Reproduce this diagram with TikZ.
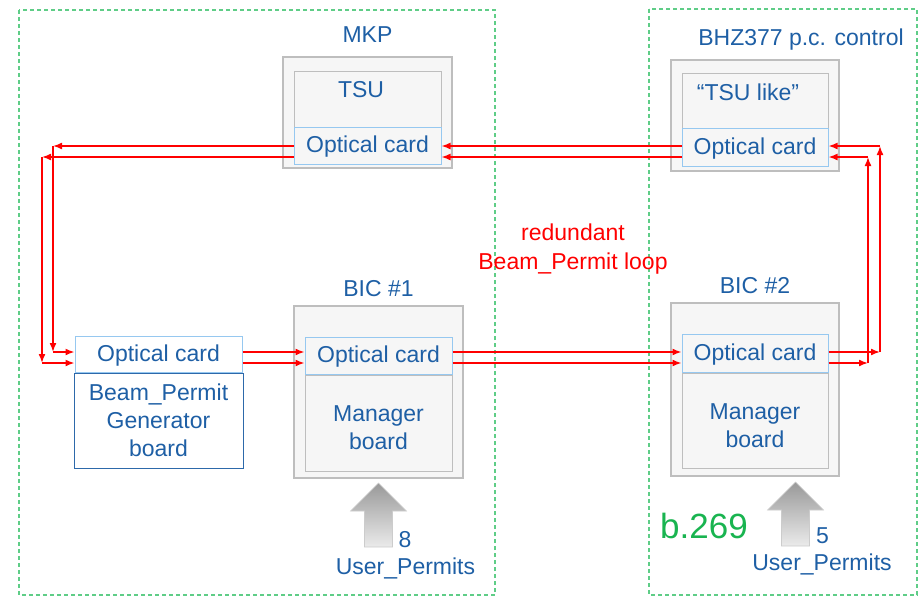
\documentclass[tikz,border=0pt]{standalone}
\usepackage{fontspec}
\setmainfont{Liberation Sans}
\usetikzlibrary{positioning,arrows.meta}

\definecolor{rackgray}{RGB}{190,190,190}
\definecolor{boxfill}{RGB}{246,246,246}
\definecolor{optblue}{RGB}{150,200,240}
\definecolor{genblue}{RGB}{45,105,170}
\definecolor{tblue}{RGB}{30,95,165}
\definecolor{zonegreen}{RGB}{95,205,135}
\definecolor{bgreen}{RGB}{25,180,80}
\definecolor{fibre}{RGB}{255,0,0}

\begin{document}
\begin{tikzpicture}[x=1pt,y=-1pt,>={Latex[length=9pt,width=7pt]},
  font=\fontsize{23}{28}\selectfont,
  rack/.style={draw=rackgray,fill=boxfill,line width=1.2pt,minimum width=169pt},
  card/.style={draw=rackgray,fill=boxfill,line width=1pt,minimum width=147pt,inner sep=0pt,text=tblue,align=center},
  opt/.style={draw=optblue,fill=boxfill,line width=1pt,minimum width=147pt,minimum height=37pt,inner sep=0pt,text=tblue,text height=17pt,text depth=3pt},
  lbl/.style={text=tblue,inner sep=0pt},
  sig/.style={draw=fibre,line width=1.6pt,->},
  zone/.style={draw=zonegreen,dash pattern=on 4pt off 3pt,line width=1.5pt},
  permit/.style={top color=black!40,bottom color=black!8,draw=black!20,line width=0.6pt}]
\useasboundingbox (0,0) rectangle (918,597);

% the two sites
\draw[zone] (19,10) rectangle (495,595);
\draw[zone] (649,9) rectangle (917,595);

% MKP crate
\node[rack,minimum height=111pt] (mkp) at (367.5,112.5) {};
\node[card,minimum height=56pt] (tsu) at (367.5,99) {};
\node[opt] (oc1) at (367.5,145.5) {Optical card};
\node[lbl,anchor=base] at (361,97) {TSU};
\node[lbl,above=14pt of mkp] {MKP};

% BHZ377 crate
\node[rack,minimum width=168pt,minimum height=111pt] (bhz) at (755,115.5) {};
\node[card,minimum width=146pt,minimum height=55pt] (tsul) at (755,100.5) {};
\node[opt,minimum width=146pt,minimum height=38pt] (oc2) at (755,147) {Optical card};
\node[lbl,anchor=base] at (748,100) {“TSU like”};
\node[lbl,anchor=base] at (801,45) {BHZ377 p.c. control};

% BIC #1
\node[rack,minimum height=172pt] (bic1) at (378.5,392) {};
\node[opt] (oc3) at (378.5,355.5) {Optical card};
\node[card,minimum height=96pt,text height=53pt,text depth=0pt,below=0pt of oc3] (mgr1) {Manager\\board};
\node[lbl,above=8pt of bic1] {BIC \#1};

% BIC #2
\node[rack,minimum width=168pt,minimum height=173pt] (bic2) at (755,389.5) {};
\node[opt,minimum width=146pt,minimum height=38pt] (oc4) at (755,353) {Optical card};
\node[card,minimum width=146pt,minimum height=95pt,text height=53pt,text depth=0pt,below=0pt of oc4] (mgr2) {Manager\\board};
\node[lbl,above=8pt of bic2] {BIC \#2};

% generator
\node[opt,fill=white,minimum width=167pt,minimum height=36pt] (oc5) at (158.5,354) {Optical card};
\node[card,draw=genblue,fill=white,minimum width=169pt,minimum height=95pt,below=0pt of oc5] (gen) {Beam\_Permit\\Generator\\board};

% loop corners
\coordinate (la) at (53,146);
\coordinate (lb) at (42,157);
\coordinate (lc) at (53,352);
\coordinate (ld) at (42,363);
\coordinate (ra) at (880,146);
\coordinate (rb) at (868,157);
\coordinate (rc) at (880,352);
\coordinate (rd) at (868,363);

% redundant loop, one pass per fibre
\foreach \ta/\bo/\ri/\up in {la/lc/rc/ra,lb/ld/rd/rb} {
  \draw[sig] (oc1.west |- \ta) -- (\ta);
  \draw[sig] (\ta) -- (\bo);
  \draw[sig] (\bo) -- (oc5.west |- \bo);
  \draw[sig] (oc5.east |- \bo) -- (oc3.west |- \bo);
  \draw[sig] (oc3.east |- \bo) -- (oc4.west |- \bo);
  \draw[sig] (oc4.east |- \bo) -- (\ri);
  \draw[sig] (\ri) -- (\up);
  \draw[sig] (\up) -- (oc2.east |- \up);
  \draw[sig] (oc2.west |- \up) -- (oc1.east |- \up);
}
\node[text=fibre,align=center,inner sep=0pt,font=\fontsize{23}{29}\selectfont] (loop) at (573,249) {redundant\\Beam\_Permit loop};

% user permit inputs
\coordinate (in1) at (378.5,483);
\coordinate (in2) at (795.5,482);
\foreach \p in {in1,in2}
  \shade[permit] (\p) -- ++(28,28) -- ++(-14,0) -- ++(0,36) -- ++(-28,0) -- ++(0,-36) -- ++(-14,0) -- cycle;
\node[lbl,anchor=base] (n1) at (405,547) {8};
\node[lbl,anchor=base] (u1) at (405.5,574) {User\_Permits};
\node[lbl,anchor=base] (n2) at (822.5,543) {5};
\node[lbl,anchor=base] (u2) at (822,570) {User\_Permits};
\node[text=bgreen,inner sep=0pt,anchor=base,font=\fontsize{35}{40}\selectfont] (site) at (704,538) {b.269};
\end{tikzpicture}
\end{document}
